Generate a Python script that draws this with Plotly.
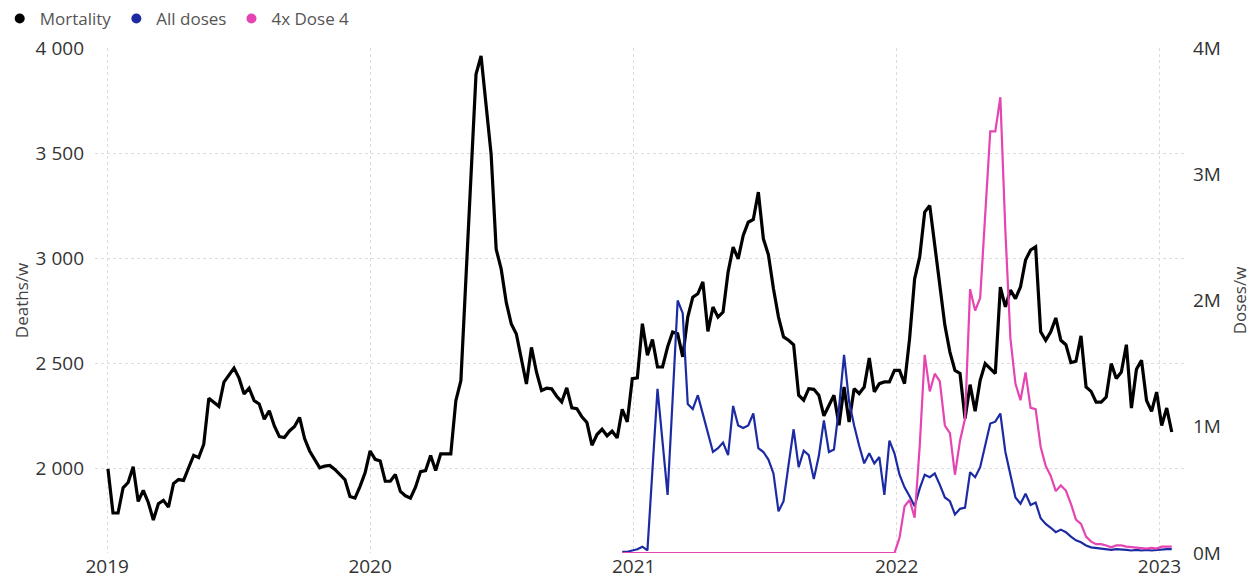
import pandas as pd
import plotly.graph_objects as go

# weekly deaths, first week of 2019 to late January 2023
mortality = [
    2000, 1790, 1790, 1910, 1935, 2010, 1845, 1898, 1840, 1757, 1834, 1850, 1818, 1930, 1949, 1945,
    2005, 2064, 2053, 2117, 2335, 2316, 2297, 2412, 2444, 2479, 2431, 2356, 2383, 2324, 2308, 2236,
    2276, 2204, 2153, 2149, 2180, 2201, 2244, 2144, 2085, 2045, 2005, 2013, 2016, 1997, 1973, 1949,
    1869, 1861, 1917, 1981, 2085, 2045, 2037, 1941, 1941, 1973, 1893, 1872, 1861,
    1913, 1987, 1992, 2063, 1992, 2071, 2071, 2071, 2324, 2419, 2904, 3390, 3875, 3962, 3724, 3495,
    3044, 2949, 2791, 2688, 2641, 2522, 2403, 2577, 2459, 2372, 2383, 2380, 2345,
    2318, 2385, 2290, 2286, 2247, 2220, 2112, 2163, 2188, 2157, 2179, 2147, 2283, 2223, 2429, 2432,
    2690, 2540, 2615, 2484, 2484, 2579, 2650, 2642, 2532, 2721, 2816, 2832, 2888,
    2653, 2769, 2721, 2745, 2935, 3054, 2998, 3109, 3172, 3185, 3315, 3093, 3017, 2856, 2721, 2627,
    2611, 2590, 2350, 2326, 2381, 2378, 2350, 2252, 2302, 2350, 2207, 2389, 2223, 2381,
    2358, 2389, 2527, 2366, 2405, 2413, 2413, 2468, 2468, 2405, 2619, 2903, 3006, 3220, 3251, 3062,
    2872, 2682, 2555, 2468, 2453, 2239, 2400, 2274, 2421, 2500, 2476, 2453, 2864,
    2770, 2849, 2809, 2865, 2992, 3040, 3055, 2651, 2611, 2651, 2717, 2611, 2590, 2505, 2511, 2632,
    2389, 2368, 2317, 2317, 2341, 2500, 2429, 2460, 2590, 2289, 2473, 2516, 2325, 2273, 2365, 2206,
    2289, 2175,
]

# doses per week in millions, from mid December 2020
all_doses = [
    0.01, 0.01, 0.02, 0.03, 0.05, 0.02, 0.66, 1.30, 0.88, 0.46, 1.22, 2.00, 1.90, 1.18, 1.14,
    1.25, 1.10, 0.95, 0.80, 0.83, 0.875, 0.775, 1.165, 1.01, 0.99, 1.01, 1.105, 0.83, 0.80, 0.74, 0.63,
    0.33, 0.41, 0.70, 0.98, 0.68, 0.81, 0.775, 0.585, 0.77, 1.05, 0.80, 0.82, 1.15, 1.57, 1.20, 1.01,
    0.85, 0.71, 0.79, 0.71, 0.76, 0.46, 0.89, 0.79, 0.62, 0.52, 0.45, 0.37, 0.51, 0.62, 0.60, 0.63,
    0.54, 0.44, 0.41, 0.305, 0.35, 0.36, 0.64, 0.60, 0.68, 0.85, 1.025, 1.04, 1.105,
    0.80, 0.61, 0.44, 0.39, 0.47, 0.38, 0.40, 0.275, 0.23, 0.20, 0.165, 0.185, 0.165, 0.13, 0.10, 0.085,
    0.06, 0.045, 0.04, 0.04, 0.035, 0.025, 0.03, 0.03, 0.025, 0.02, 0.025, 0.02, 0.025, 0.02, 0.025, 0.03,
    0.03, 0.03,
]

dose4_x4 = [
    0, 0, 0, 0, 0, 0, 0, 0, 0, 0, 0, 0, 0, 0, 0, 0, 0, 0, 0, 0,
    0, 0, 0, 0, 0, 0, 0, 0, 0, 0, 0, 0, 0, 0, 0, 0, 0, 0, 0, 0,
    0, 0, 0, 0, 0, 0, 0, 0, 0, 0, 0, 0, 0, 0, 0,
    0.12, 0.37, 0.42, 0.28, 0.84, 1.57, 1.28, 1.42, 1.36, 1.01, 0.95, 0.62, 0.89, 1.065, 2.09, 1.92,
    2.02, 2.65, 3.34, 3.34, 3.61,
    2.55, 1.70, 1.34, 1.21, 1.43, 1.15, 1.14, 0.84, 0.69, 0.61, 0.49, 0.535, 0.495, 0.39, 0.265, 0.23,
    0.13, 0.09, 0.07, 0.07, 0.06, 0.045, 0.06, 0.06, 0.05, 0.045, 0.04, 0.04, 0.035, 0.04, 0.035, 0.05,
    0.05, 0.05,
]

series_names = ["Mortality", "All doses", "4x Dose 4"]
series_colors = ["#000000", "#1c2ba3", "#e545b1"]
dose_ticks = [0, 1e6, 2e6, 3e6, 4e6]
dose_tick_labels = ["0M", "1M", "2M", "3M", "4M"]

weeks = pd.date_range("2019-01-02", periods=len(mortality), freq="7D")
dose_weeks = weeks[len(mortality) - len(all_doses):]

fig = go.Figure()

fig.add_trace(go.Scatter(
    x=weeks, y=mortality, mode="lines", name=series_names[0],
    line=dict(color=series_colors[0], width=3.2), showlegend=False,
))
fig.add_trace(go.Scatter(
    x=dose_weeks, y=[v * 1e6 for v in all_doses], mode="lines", name=series_names[1],
    line=dict(color=series_colors[1], width=2.2), yaxis="y2", showlegend=False,
))
fig.add_trace(go.Scatter(
    x=dose_weeks, y=[v * 1e6 for v in dose4_x4], mode="lines", name=series_names[2],
    line=dict(color=series_colors[2], width=2.2), yaxis="y2", showlegend=False,
))

# legend entries with round markers, like the original
for name, color in zip(series_names, series_colors):
    fig.add_trace(go.Scatter(
        x=[None], y=[None], mode="markers", name=name,
        marker=dict(color=color, size=10, symbol="circle"),
    ))

fig.update_layout(
    width=1260,
    height=588,
    margin=dict(l=95, r=76, t=48, b=35, autoexpand=False),
    paper_bgcolor="white",
    plot_bgcolor="white",
    separators=". ",
    font=dict(family="Open Sans, Noto Sans, sans-serif", color="#333333"),
    legend=dict(
        orientation="h", x=-0.0875, y=1.093, xanchor="left", yanchor="top",
        font=dict(size=17, color="#555555"), itemwidth=30, bgcolor="rgba(0,0,0,0)",
        borderwidth=0,
    ),
    xaxis=dict(
        type="date",
        range=["2018-12-15", "2023-02-04"],
        tick0="2019-01-01", dtick="M12", tickformat="%Y",
        showgrid=True, gridcolor="#dcdcdc", griddash="dot", gridwidth=1,
        zeroline=False, showline=False, ticks="",
        tickfont=dict(size=19, color="#333333"),
    ),
    yaxis=dict(
        range=[1600, 4000],
        tickvals=[2000, 2500, 3000, 3500, 4000], tickformat=",d",
        showgrid=True, gridcolor="#dcdcdc", griddash="dot", gridwidth=1,
        zeroline=False, showline=False, ticks="", ticklabelstandoff=10,
        tickfont=dict(size=19, color="#333333"),
        title=dict(text="Deaths/w", font=dict(size=17, color="#444444"), standoff=2),
    ),
    yaxis2=dict(
        overlaying="y", side="right",
        range=[0, 4e6],
        tickvals=dose_ticks, ticktext=dose_tick_labels,
        showgrid=False, zeroline=False, showline=False, ticks="", ticklabelstandoff=8,
        tickfont=dict(size=19, color="#333333"),
        title=dict(text="Doses/w", font=dict(size=17, color="#444444"), standoff=14),
    ),
)

# drop the browser's default 8px body margin so the figure fills the window
fig.write_html(
    "out.html",
    config={"displayModeBar": False},
    post_script="document.body.style.margin = '0';",
)
